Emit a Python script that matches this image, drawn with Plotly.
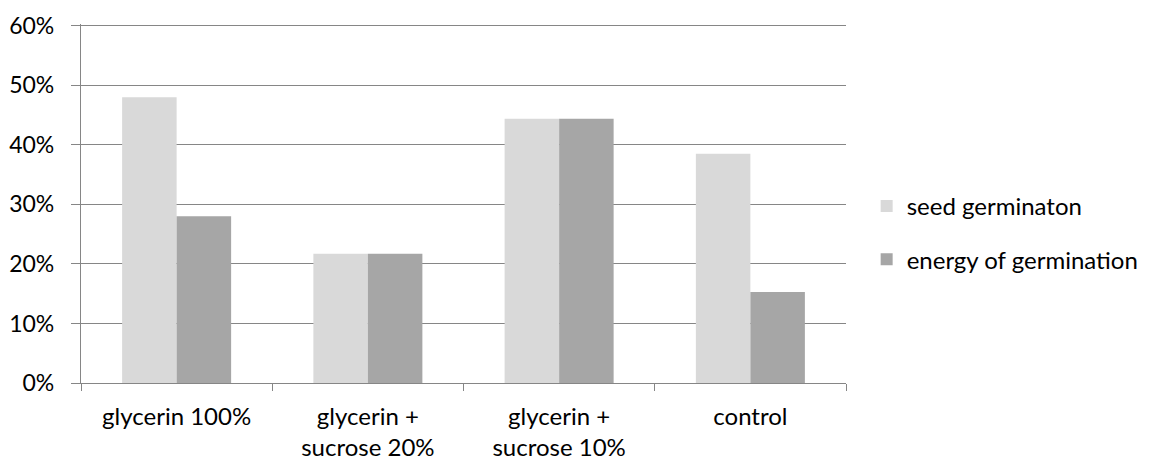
import plotly.graph_objects as go

categories = ["glycerin 100%", "glycerin +<br>sucrose 20%", "glycerin +<br>sucrose 10%", "control"]
seed_germination = [0.48, 0.217, 0.444, 0.385]
energy_germination = [0.28, 0.217, 0.444, 0.153]
series_names = ["seed germinaton", "energy of germination"]
y_ticks = [0, 0.1, 0.2, 0.3, 0.4, 0.5, 0.6]

FONT = "Lato"
GRID = "#868686"

fig = go.Figure()
fig.add_trace(go.Bar(x=categories, y=seed_germination, name=series_names[0],
                     marker=dict(color="#D9D9D9", line=dict(width=0)), legendgroup="a"))
fig.add_trace(go.Bar(x=categories, y=energy_germination, name=series_names[1],
                     marker=dict(color="#A6A6A6", line=dict(width=0)), legendgroup="b"))

fig.update_layout(
    width=1150, height=461,
    margin=dict(l=73, r=312, t=16, b=86),
    paper_bgcolor="white", plot_bgcolor="white",
    barmode="group", bargap=0.43, bargroupgap=0,
    font=dict(family=FONT, size=24, color="black"),
    showlegend=True,
    legend=dict(x=1.027, xanchor="left", y=0.418, yanchor="middle",
                font=dict(family=FONT, size=24), tracegroupgap=19,
                itemwidth=30, bgcolor="rgba(0,0,0,0)"),
)
fig.update_yaxes(range=[0, 0.603], tickvals=y_ticks, tickformat=".0%",
                 tickfont=dict(size=23),
                 showgrid=True, gridcolor=GRID, gridwidth=1.3,
                 showline=True, linecolor=GRID, linewidth=1.3,
                 ticks="outside", ticklen=9, tickcolor=GRID, tickwidth=1.3,
                 ticklabelstandoff=12, zeroline=False, automargin=False)
fig.update_xaxes(showline=True, linecolor=GRID, linewidth=1.3,
                 ticks="outside", ticklen=7, tickcolor=GRID, tickwidth=1.3,
                 tickson="boundaries", showgrid=False, mirror=False,
                 ticklabelstandoff=12, automargin=False)

fig.write_html("out.html")
